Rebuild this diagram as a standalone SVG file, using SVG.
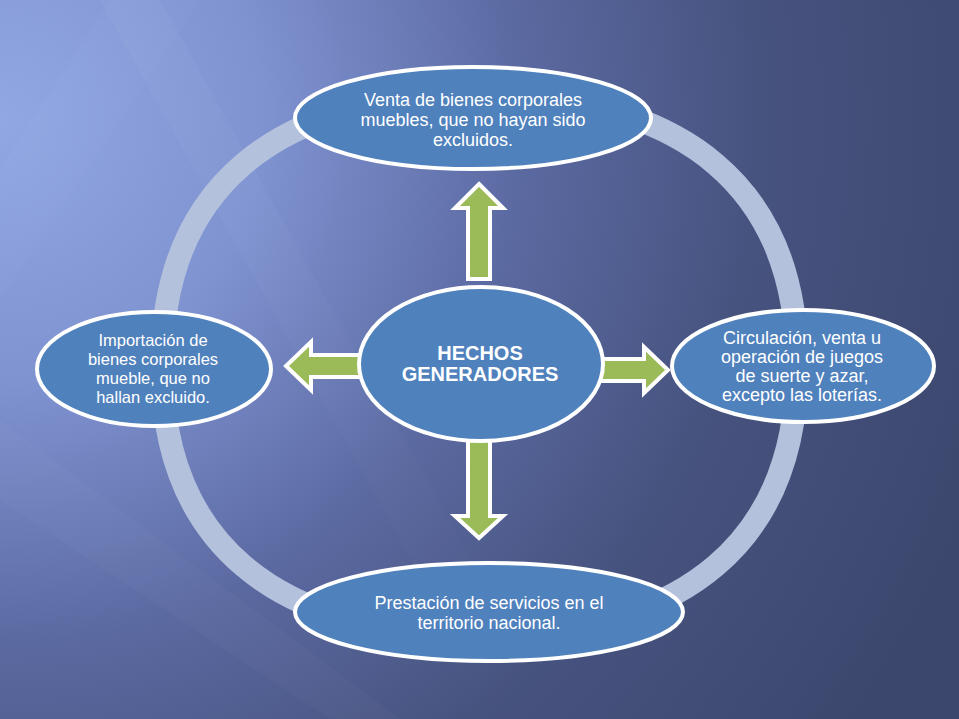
<svg xmlns="http://www.w3.org/2000/svg" width="959" height="719" viewBox="0 0 959 719">
  <defs>
    <radialGradient id="bg" cx="0" cy="120" r="1050" gradientUnits="userSpaceOnUse">
      <stop offset="0" stop-color="#91A7E3"/>
      <stop offset="0.25" stop-color="#7F93D1"/>
      <stop offset="0.5" stop-color="#5B69A1"/>
      <stop offset="0.72" stop-color="#47537F"/>
      <stop offset="1" stop-color="#3C476E"/>
    </radialGradient>
    <linearGradient id="streak" x1="0" y1="0" x2="1" y2="1">
      <stop offset="0" stop-color="#FFFFFF" stop-opacity="0.12"/>
      <stop offset="1" stop-color="#FFFFFF" stop-opacity="0"/>
    </linearGradient>
    <style>
      .node ellipse { fill: #4F81BD; stroke: #FFFFFF; stroke-width: 4; }
      .node text { font-family: "Liberation Sans", Arial, sans-serif; font-size: 18px; fill: #FFFFFF; text-anchor: middle; }
      .node text.small { font-size: 16.5px; }
      .node text.bold { font-weight: bold; font-size: 20px; }
      .arrow { fill: #9BBB59; stroke: #FFFFFF; stroke-width: 4; stroke-linejoin: miter; }
      .ring { fill: none; stroke: #B4C1DD; stroke-width: 23; }
    </style>
  </defs>

  <rect x="0" y="0" width="959" height="719" fill="url(#bg)"/>
  <g id="streaks">
    <polygon points="0,170 110,0 200,0 0,300" fill="url(#streak)" opacity="0.25"/>
    <polygon points="0,420 400,719 330,719 0,500" fill="#FFFFFF" opacity="0.025"/>
    <polygon points="160,0 560,719 500,719 100,0" fill="url(#streak)" opacity="0.3"/>
  </g>

  <g id="ring">
    <path class="ring" d="M162,365 C162,189.5 273.1,95 479.5,95 C685.9,95 797,189.5 797,365 C797,540.5 685.9,635 479.5,635 C273.1,635 162,540.5 162,365 Z"/>
  </g>

  <g id="connectors">
    <polygon class="arrow" points="479,184 503,208 490,208 490,279 468,279 468,208 455,208"/>
    <polygon class="arrow" points="468,440 490,440 490,516 503,516 479,538 455,516 468,516"/>
    <polygon class="arrow" points="286,366 311,342 311,355 362,355 362,377 311,377 311,390"/>
    <polygon class="arrow" points="600,359 644,359 644,347 668,370 644,393 644,381 600,381"/>
  </g>

  <g id="node-top" class="node">
    <ellipse cx="473" cy="118" rx="178" ry="51"/>
    <text x="473" y="106">Venta de bienes corporales</text>
    <text x="473" y="126">muebles, que no hayan sido</text>
    <text x="473" y="146">excluidos.</text>
  </g>

  <g id="node-center" class="node">
    <ellipse cx="481" cy="364" rx="122" ry="77"/>
    <text class="bold" x="480" y="360">HECHOS</text>
    <text class="bold" x="480" y="381">GENERADORES</text>
  </g>

  <g id="node-left" class="node">
    <ellipse cx="154" cy="369" rx="117" ry="57"/>
    <text class="small" x="153" y="346">Importación de</text>
    <text class="small" x="153" y="365">bienes corporales</text>
    <text class="small" x="153" y="384">mueble, que no</text>
    <text class="small" x="153" y="403">hallan excluido.</text>
  </g>

  <g id="node-right" class="node">
    <ellipse cx="803" cy="366" rx="131" ry="56"/>
    <text x="802" y="344">Circulación, venta u</text>
    <text x="802" y="363">operación de juegos</text>
    <text x="802" y="382">de suerte y azar,</text>
    <text x="802" y="401">excepto las loterías.</text>
  </g>

  <g id="node-bottom" class="node">
    <ellipse cx="489" cy="612" rx="194" ry="49"/>
    <text x="489" y="609">Prestación de servicios en el</text>
    <text x="489" y="629">territorio nacional.</text>
  </g>
</svg>
